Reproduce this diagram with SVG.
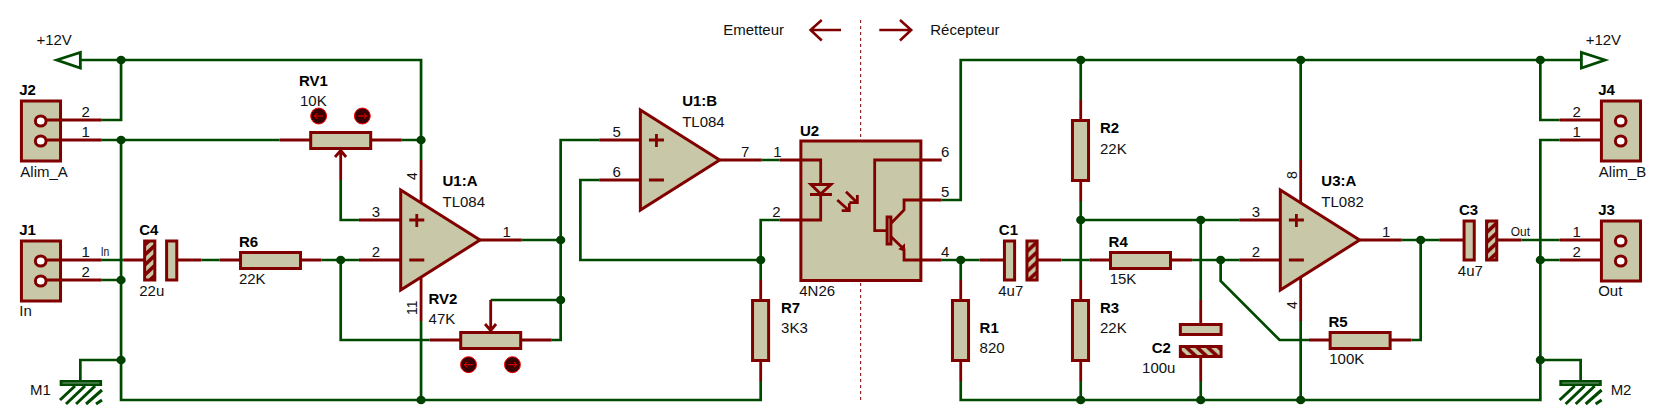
<svg xmlns="http://www.w3.org/2000/svg" xmlns:xlink="http://www.w3.org/1999/xlink" width="1660" height="420" viewBox="0 0 1660 420">
<style>
rect,path,circle,ellipse,polygon,line{vector-effect:non-scaling-stroke}
.w{fill:none;stroke:#004a00;stroke-width:2.7}
.r{fill:none;stroke:#800000;stroke-width:2.8}
.b{fill:#c8c8a8;stroke:#800000;stroke-width:3}
.h1{fill:url(#h1);stroke:#800000;stroke-width:3}
.h2{fill:url(#h2);stroke:#800000;stroke-width:3}
.j{fill:#004000;stroke:none}
.p{fill:#fff;stroke:#800000;stroke-width:3}
.v{fill:#fff;stroke:#004a00;stroke-width:2.8}
.g{fill:none;stroke:#004a00;stroke-width:3}
.o{fill:#380000;stroke:#ff0000;stroke-width:1}
.oa{fill:none;stroke:#ff0000;stroke-width:1}
.d{fill:none;stroke:#800000;stroke-width:1;stroke-dasharray:3 3}
.a{fill:none;stroke:#800000;stroke-width:2.5}
text{font-family:"Liberation Sans",Arial,sans-serif;font-size:14px;fill:#111}
.n{font-weight:bold;fill:#000}
.s{font-size:13.5px}
</style>
<defs>
<pattern id="h1" patternUnits="userSpaceOnUse" width="10" height="10"><rect width="10" height="10" fill="#c8c8a8"/><path d="M-3 3L3 -3M0 10L10 0M7 13L13 7" stroke="#800000" stroke-width="3.5"/></pattern>
<pattern id="h2" patternUnits="userSpaceOnUse" width="10" height="10"><rect width="10" height="10" fill="#c8c8a8"/><path d="M-3 7L3 13M0 0L10 10M7 -3L13 3" stroke="#800000" stroke-width="3.5"/></pattern>
<g id="conn"><rect class="b" x="20" y="0" width="36.5" height="60"/><ellipse class="p" cx="38" cy="20" rx="5" ry="5"/><ellipse class="p" cx="38" cy="40" rx="5" ry="5"/></g>
<g id="gnd"><rect class="v" x="57" y="381.3" width="37" height="3.4"/><path class="g" d="M70 386L56 400M79.3 386L61.6 404M88.7 386L71 404M95.2 390L80.3 404M95.2 400L89.6 404"/></g>
<g id="opamp"><polygon class="b" points="0,0 74,50 0,100"/><path class="r" d="M8 30H22M15 24V37M8 70H22"/></g>
<g id="holeL"><ellipse class="o" cx="0" cy="0" rx="7.4" ry="8"/><path class="oa" d="M-4 0H4M-1.5 -2.5L-4 0L-1.5 2.5"/></g>
<g id="holeR"><ellipse class="o" cx="0" cy="0" rx="7.4" ry="8"/><path class="oa" d="M-4 0H4M1.5 -2.5L4 0L1.5 2.5"/></g>
</defs>
<g transform="scale(1.0714,1)">
<g id="connectors">
<path class="w" d="M75 60H393V160M113 60V120H95M95 140H261M375 140H393M113 140V400H710V381M393 321V400M95 260H115M95 280H113M188 260H205M300 260H335M318 260V340H401M335 220H318V180M487 240H523.3M515 340H523.3V140H559.3M458 300H523.3M113 360H75V380M559.3 180H541.7V260H710M727.7 220H710V280M711 160H727.7M879 200H896.7V60H1475M879 260H914.3M896.7 260V280M896.7 381V400H1437.7V140H1455.7M990.7 260H1016.7M1008.7 60V100M1008.7 201V280M1008.7 381V400M1008.7 220H1156.7M1120.7 220V300M1120.7 381V400M1112.7 260H1156.7M1139.3 260V281L1194.3 340H1221.7M1317.3 340H1326V240M1214 60V160M1214 321V400M1308.3 240H1343.3M1420 240H1455.7M1437.7 260H1455.7M1437.7 60V120H1455.7M1437.7 360H1475.3V380"/>
<circle class="j" cx="113" cy="60" r="4.3"/><circle class="j" cx="113" cy="140" r="4.3"/><circle class="j" cx="393" cy="140" r="4.3"/><circle class="j" cx="113" cy="280" r="4.3"/><circle class="j" cx="113" cy="360" r="4.3"/><circle class="j" cx="393" cy="400" r="4.3"/><circle class="j" cx="318" cy="260" r="4.3"/><circle class="j" cx="523.3" cy="240" r="4.3"/><circle class="j" cx="523.3" cy="300" r="4.3"/><circle class="j" cx="710" cy="260" r="4.3"/><circle class="j" cx="896.7" cy="260" r="4.3"/><circle class="j" cx="1008.7" cy="60" r="4.3"/><circle class="j" cx="1008.7" cy="220" r="4.3"/><circle class="j" cx="1008.7" cy="400" r="4.3"/><circle class="j" cx="1120.7" cy="220" r="4.3"/><circle class="j" cx="1120.7" cy="400" r="4.3"/><circle class="j" cx="1139.3" cy="260" r="4.3"/><circle class="j" cx="1214" cy="60" r="4.3"/><circle class="j" cx="1214" cy="400" r="4.3"/><circle class="j" cx="1326" cy="240" r="4.3"/><circle class="j" cx="1437.7" cy="60" r="4.3"/><circle class="j" cx="1437.7" cy="260" r="4.3"/><circle class="j" cx="1437.7" cy="360" r="4.3"/>
</g>
<g id="VCC_A"><polygon class="v" points="53,60 75,52.5 75,68"/><text x="34" y="45">+12V</text></g>
<g id="VCC_B"><polygon class="v" points="1498,60 1476,52.5 1476,68"/><text x="1480" y="45">+12V</text></g>
<g id="J2"><use xlink:href="#conn" href="#conn" y="101"/><path class="r" d="M43 120H95M43 140H95"/><text class="n" x="18" y="95">J2</text><text x="76" y="117">2</text><text x="76" y="137">1</text><text x="19" y="177">Alim_A</text></g>
<g id="J1"><use xlink:href="#conn" href="#conn" y="241"/><path class="r" d="M43 260H95M43 280H95"/><text class="n" x="18" y="235">J1</text><text x="76" y="257">1</text><text x="76" y="277">2</text><text class="s" x="94" y="256" textLength="8" lengthAdjust="spacingAndGlyphs">In</text><text x="18" y="316">In</text></g>
<g id="RV1"><path class="r" d="M261 140H290M346 140H375M318 180V151M312.7 157L318 150.5L323 157"/><rect class="b" x="290" y="132.5" width="56" height="16"/><use xlink:href="#holeL" href="#holeL" x="297.4" y="116"/><use xlink:href="#holeR" href="#holeR" x="338.2" y="116"/><text class="n" x="279" y="86">RV1</text><text x="280" y="106">10K</text></g>
<g id="C4"><path class="r" d="M115 260H135M165 260H188"/><rect class="h1" x="135" y="241" width="9.5" height="39"/><rect class="b" x="155.5" y="241" width="9.5" height="39"/><text class="n" x="130" y="235">C4</text><text x="130" y="296">22u</text></g>
<g id="R6"><path class="r" d="M205 260H224.5M280.5 260H300"/><rect class="b" x="224.5" y="252.5" width="56" height="16"/><text class="n" x="223" y="247">R6</text><text x="223" y="284">22K</text></g>
<g id="U1A"><path class="r" d="M393 160V203M393 277V321M335 220H374M335 260H374M448 240H487"/><use xlink:href="#opamp" href="#opamp" x="374" y="190"/><text class="n" x="413" y="186">U1:A</text><text x="413" y="207">TL084</text><text x="347" y="217">3</text><text x="347" y="257">2</text><text x="469" y="237">1</text><text transform="translate(389,180) rotate(-90)">4</text><text transform="translate(389,315) rotate(-90)">11</text></g>
<g id="RV2"><path class="r" d="M401 340H430M486 340H515M458 300V330M452.7 324L458 330.5L463 324"/><rect class="b" x="430" y="332.5" width="56" height="16"/><use xlink:href="#holeL" href="#holeL" x="437.3" y="364.7"/><use xlink:href="#holeR" href="#holeR" x="478.3" y="364.7"/><text class="n" x="400" y="304">RV2</text><text x="400" y="324">47K</text></g>
<g id="M1"><use xlink:href="#gnd" href="#gnd"/><text x="28" y="395">M1</text></g>
<g id="U1B"><path class="r" d="M559.3 140H597.7M559.3 180H597.7M671.7 160H711"/><use xlink:href="#opamp" href="#opamp" x="597.7" y="110"/><text class="n" x="636.7" y="106">U1:B</text><text x="636.7" y="127">TL084</text><text x="571.7" y="137">5</text><text x="571.7" y="177">6</text><text x="691.7" y="157">7</text></g>
<g id="R7"><path class="r" d="M710 280V300.5M710 360.5V381"/><rect class="b" x="702.4" y="300.5" width="15" height="60"/><text class="n" x="729" y="313">R7</text><text x="729" y="333">3K3</text></g>
<g id="U2">
<rect class="b" x="747.5" y="141" width="112" height="139.5"/>
<path class="r" d="M727.7 160H766V220H727.7"/>
<polygon class="b" points="757,184.5 775.5,184.5 766,194"/>
<path class="r" d="M756 194.5H776.5M789.6 191.7L800.2 202.7M800.2 195V202.7H792.7M781.5 200L792.7 210.7M792.7 203.3V210.7H785.6"/>
<path class="r" d="M879 160H816.4V230.7H827M831.7 223.3L843.8 210V200H879M831.7 236.7L843.8 249.3V260H879"/>
<rect class="b" x="828" y="217" width="3.5" height="27" style="stroke-width:3"/>
<polygon fill="#800000" points="838.4,249.3 844.7,243.3 844.7,251.7"/>
<text class="n" x="746.7" y="136">U2</text><text x="746" y="296">4N26</text><text x="721.7" y="157">1</text><text x="720.7" y="217">2</text><text x="878.3" y="157">6</text><text x="878.3" y="197">5</text><text x="878.3" y="257">4</text></g>
<g id="R1"><path class="r" d="M896.7 280V300.5M896.7 360.5V381"/><rect class="b" x="889" y="300.5" width="15" height="60"/><text class="n" x="914.3" y="333">R1</text><text x="914.3" y="353">820</text></g>
<g id="C1"><path class="r" d="M914.3 260H937M968 260H990.7"/><rect class="b" x="937.5" y="241" width="9.5" height="39"/><rect class="h1" x="958.5" y="241" width="9.5" height="39"/><text class="n" x="932.3" y="235">C1</text><text x="931.7" y="296">4u7</text></g>
<g id="R2"><path class="r" d="M1008.7 100V120.5M1008.7 180.5V201"/><rect class="b" x="1001" y="120.5" width="15" height="60"/><text class="n" x="1026.7" y="133">R2</text><text x="1026.7" y="154">22K</text></g>
<g id="R3"><path class="r" d="M1008.7 280V300.5M1008.7 360.5V381"/><rect class="b" x="1001" y="300.5" width="15" height="60"/><text class="n" x="1026.7" y="313">R3</text><text x="1026.7" y="333">22K</text></g>
<g id="R4"><path class="r" d="M1016.7 260H1036M1093 260H1112.7"/><rect class="b" x="1036.5" y="252.5" width="56" height="16"/><text class="n" x="1034.7" y="247">R4</text><text x="1035.7" y="284">15K</text></g>
<g id="C2"><path class="r" d="M1120.7 300V324M1120.7 357V381"/><rect class="b" x="1101.7" y="324.5" width="38" height="10"/><rect class="h2" x="1101.7" y="346.5" width="38" height="10"/><text class="n" x="1075" y="353">C2</text><text x="1066" y="373">100u</text></g>
<g id="U3A"><path class="r" d="M1214 160V203M1214 277V321M1156.7 220H1195M1156.7 260H1195M1269 240H1308.3"/><use xlink:href="#opamp" href="#opamp" x="1195" y="190"/><text class="n" x="1233.3" y="186">U3:A</text><text x="1233.3" y="207">TL082</text><text x="1168.3" y="217">3</text><text x="1168.3" y="257">2</text><text x="1290" y="237">1</text><text transform="translate(1210.7,179) rotate(-90)">8</text><text transform="translate(1210.7,309) rotate(-90)">4</text></g>
<g id="R5"><path class="r" d="M1221.7 340H1241M1298 340H1317.3"/><rect class="b" x="1241.5" y="332.5" width="56" height="16"/><text class="n" x="1240" y="327">R5</text><text x="1240.7" y="364">100K</text></g>
<g id="C3"><path class="r" d="M1343.3 240H1366M1397 240H1420"/><rect class="b" x="1366.5" y="221" width="9.5" height="39"/><rect class="h1" x="1387.5" y="221" width="9.5" height="39"/><text class="n" x="1361.7" y="215">C3</text><text x="1360.7" y="276">4u7</text><text class="s" x="1410" y="236" textLength="18" lengthAdjust="spacingAndGlyphs">Out</text></g>
<g id="J4"><path class="r" d="M1455.7 120H1507M1455.7 140H1507"/><use xlink:href="#conn" href="#conn" x="1474.7" y="101"/><text class="n" x="1491.7" y="95">J4</text><text x="1467.7" y="117">2</text><text x="1467.7" y="137">1</text><text x="1492.3" y="177">Alim_B</text></g>
<g id="J3"><path class="r" d="M1455.7 240H1507M1455.7 260H1507"/><use xlink:href="#conn" href="#conn" x="1474.7" y="221"/><text class="n" x="1491.7" y="215">J3</text><text x="1467.7" y="237">1</text><text x="1467.7" y="257">2</text><text x="1491.7" y="296">Out</text></g>
<g id="M2"><use xlink:href="#gnd" href="#gnd" x="1399.7"/><text x="1503.3" y="395">M2</text></g>
<g id="separation">
<path class="d" d="M803.3 20V140M803.3 283V400"/>
<path class="a" d="M785 30H757M767 20L756.5 30L767 40.5M820.7 30H850M840 20L850.5 30L840 40.5"/>
<text x="675" y="35">Emetteur</text><text x="868.3" y="35">Récepteur</text>
</g>
</g>
</svg>
